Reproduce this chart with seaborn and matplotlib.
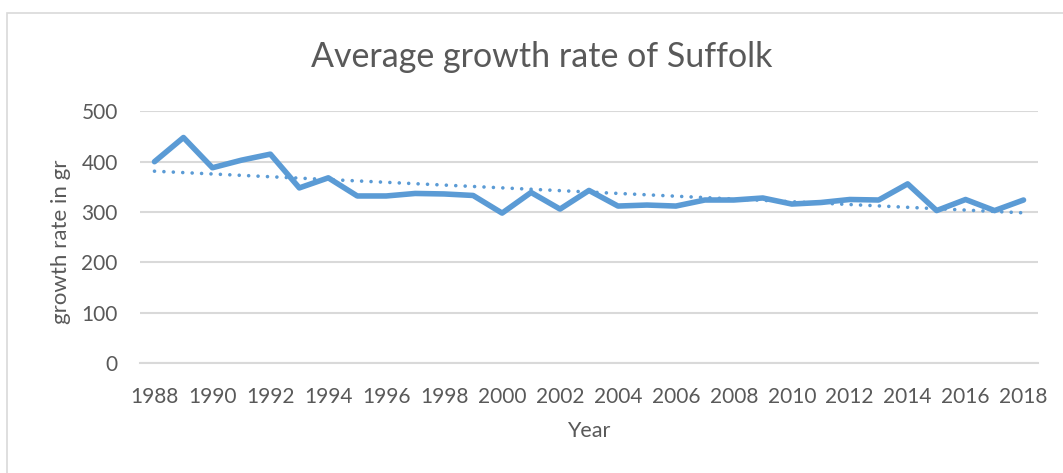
import numpy as np
import pandas as pd
import matplotlib
matplotlib.use("Agg")
import matplotlib.pyplot as plt
from matplotlib.patches import Rectangle
import seaborn as sns

years = list(range(1988, 2019))
growth = [400, 448, 388, 403, 415, 348, 368, 332, 332, 337, 336, 333, 298, 339, 306,
          343, 312, 314, 312, 324, 324, 328, 316, 319, 325, 324, 356, 303, 325, 303, 324]
title = "Average growth rate of Suffolk"
x_label = "Year"
y_label = "growth rate in gr"
y_ticks = [0, 100, 200, 300, 400, 500]
x_ticks = list(range(1988, 2019, 2))

df = pd.DataFrame({"Year": years, "growth": growth})

sns.set_theme(style="white")
plt.rcParams["font.family"] = ["Lato", "DejaVu Sans"]

TEXT = "#595959"
BLUE = "#5B9BD5"
GRID = "#D9D9D9"

W, H = 1063, 473
fig = plt.figure(figsize=(W / 100, H / 100), dpi=100)
ax = fig.add_axes([140 / W, 1 - 363.3 / H, (1038 - 140) / W, (363.3 - 111.3) / H])

sns.regplot(data=df, x="Year", y="growth", ax=ax, ci=None, scatter=False,
            line_kws=dict(color=BLUE, lw=2.6, linestyle=(0, (0.01, 2.6)),
                          dash_capstyle="round"))
sns.lineplot(data=df, x="Year", y="growth", ax=ax, color=BLUE, lw=4.0,
             solid_joinstyle="round", solid_capstyle="round")

ax.set_xlim(1987.5, 2018.5)
ax.set_ylim(0, 500)
ax.set_yticks(y_ticks)
ax.set_xticks(x_ticks)
ax.set_xticklabels([str(t) for t in x_ticks])
ax.yaxis.grid(True, color=GRID, lw=1.5)
ax.xaxis.grid(False)
for s in ["top", "right", "left"]:
    ax.spines[s].set_visible(False)
ax.spines["bottom"].set_color(GRID)
ax.spines["bottom"].set_linewidth(1.5)
ax.tick_params(axis="both", length=0, colors=TEXT, labelsize=15)
ax.tick_params(axis="x", pad=17)
ax.tick_params(axis="y", pad=16)
ax.set_xlabel(x_label, fontsize=15.5, color=TEXT)
ax.set_ylabel(y_label, fontsize=16, color=TEXT)
ax.xaxis.set_label_coords(0.5, -(421 - 363.3) / 252)
ax.yaxis.set_label_coords((71 - 140) / 898, (363.3 - 242) / 252)

fig.text(542 / W, 1 - 57 / H, title, ha="center", va="center", fontsize=24.5, color=TEXT)

fig.patches.append(Rectangle((7 / W, -0.1), 1.2, 1 - 13 / H + 0.1, transform=fig.transFigure,
                             fill=False, edgecolor=GRID, lw=1.2))

fig.savefig("out.png", dpi=100)
